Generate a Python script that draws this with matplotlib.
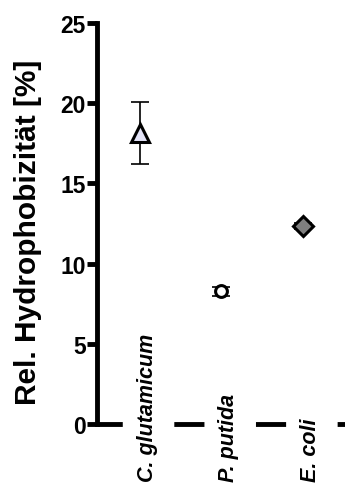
import numpy as np
import matplotlib.pyplot as plt

plt.rcParams['font.family'] = ['Liberation Sans', 'DejaVu Sans']

strains = ['C. glutamicum', 'P. putida', 'E. coli']
hydrophobicity = [18.15, 8.27, 12.35]
errors = [1.95, 0.3, 0.2]
markers = ['^', 'o', 'D']
facecolors = ['#e4e4f8', 'white', '#7f7f7f']
sizes = [13, 8.5, 10]

fig = plt.figure(figsize=(3.45, 4.85), dpi=100)
ax = fig.add_axes([97 / 345, 60 / 485, 1 - 97 / 345, 401 / 485])

for i in range(len(strains)):
    ax.errorbar(i, hydrophobicity[i], yerr=errors[i], fmt='none', ecolor='black',
                elinewidth=1.2, capsize=6.5, capthick=1.2, zorder=2)
    ax.plot(i, hydrophobicity[i], marker=markers[i], markersize=sizes[i],
            markerfacecolor=facecolors[i], markeredgecolor='black',
            markeredgewidth=2.2, linestyle='none', zorder=3)

ax.set_xlim(-0.53, 2.52)
ax.set_ylim(0, 25)
ax.set_yticks([0, 5, 10, 15, 20, 25])
ax.set_xticks(range(len(strains)))
ax.set_xticklabels([])

# strain names stand upright, starting near the bottom edge
for i, name in enumerate(strains):
    ax.text(i + 0.09, -0.142, name, transform=ax.get_xaxis_transform(),
            rotation=90, ha='center', va='bottom', fontsize=15.5,
            fontstyle='italic', fontweight='bold', clip_on=False)

for s in ['top', 'right']:
    ax.spines[s].set_visible(False)
ax.spines['left'].set_linewidth(3.5)
ax.spines['bottom'].set_linewidth(3.5)
ax.spines['bottom'].set_linestyle((1.0, (6.2, 10.6)))
ax.spines['bottom'].set_capstyle('butt')

ax.tick_params(axis='y', length=7, width=3.5, labelsize=16.5, pad=1)
ax.tick_params(axis='x', length=0)
for lab in ax.get_yticklabels():
    lab.set_fontweight('bold')

fig.text(28 / 345, 1 - 232 / 485, 'Rel. Hydrophobizität [%]', rotation=90,
         ha='center', va='center', fontsize=21.5, fontweight='bold')

fig.savefig('out.png', dpi=100)
